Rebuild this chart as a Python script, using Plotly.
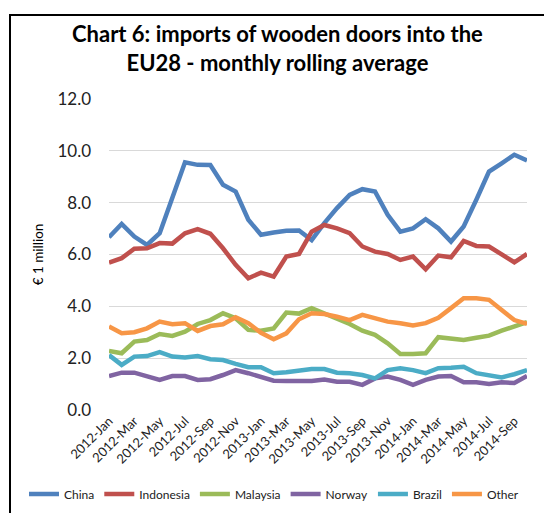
import plotly.graph_objects as go

# Monthly rolling average of wooden door imports into the EU28 (EUR million)
months = [f"{y}-{m}" for y in (2012, 2013, 2014)
          for m in ("Jan", "Feb", "Mar", "Apr", "May", "Jun",
                    "Jul", "Aug", "Sep", "Oct", "Nov", "Dec")][:34]

china = [6.67, 7.18, 6.69, 6.37, 6.82, 8.17, 9.56, 9.46, 9.45, 8.69, 8.43, 7.34,
         6.76, 6.85, 6.92, 6.93, 6.56, 7.21, 7.79, 8.30, 8.52, 8.43, 7.53, 6.88,
         7.01, 7.36, 7.01, 6.50, 7.08, 8.11, 9.20, 9.52, 9.85, 9.63]
indonesia = [5.69, 5.86, 6.22, 6.24, 6.44, 6.42, 6.82, 6.98, 6.80, 6.24, 5.60, 5.08,
             5.30, 5.15, 5.92, 6.02, 6.88, 7.14, 7.01, 6.82, 6.31, 6.11, 6.02, 5.79,
             5.92, 5.43, 5.96, 5.89, 6.52, 6.33, 6.31, 6.02, 5.70, 6.02]
malaysia = [2.28, 2.19, 2.64, 2.70, 2.93, 2.86, 3.02, 3.32, 3.47, 3.73, 3.54, 3.09,
            3.06, 3.15, 3.76, 3.72, 3.93, 3.73, 3.56, 3.32, 3.06, 2.90, 2.57, 2.16,
            2.16, 2.19, 2.81, 2.77, 2.70, 2.79, 2.87, 3.06, 3.24, 3.39]
norway = [1.31, 1.44, 1.44, 1.31, 1.16, 1.31, 1.31, 1.16, 1.19, 1.35, 1.54, 1.42,
          1.29, 1.13, 1.12, 1.10, 1.12, 1.18, 1.09, 1.09, 0.97, 1.22, 1.29, 1.16,
          0.97, 1.16, 1.29, 1.31, 1.07, 1.07, 1.00, 1.07, 1.04, 1.31]
brazil = [2.12, 1.74, 2.06, 2.08, 2.23, 2.06, 2.03, 2.08, 1.96, 1.93, 1.78, 1.65,
          1.65, 1.42, 1.46, 1.52, 1.58, 1.58, 1.44, 1.42, 1.35, 1.22, 1.54, 1.61,
          1.54, 1.42, 1.61, 1.63, 1.67, 1.42, 1.35, 1.26, 1.38, 1.54]
other = [3.22, 2.96, 3.00, 3.15, 3.41, 3.31, 3.35, 3.05, 3.24, 3.31, 3.58, 3.35,
         2.98, 2.73, 2.96, 3.50, 3.73, 3.70, 3.60, 3.47, 3.67, 3.54, 3.41, 3.35,
         3.26, 3.35, 3.56, 3.93, 4.31, 4.31, 4.25, 3.86, 3.47, 3.32]

series = [
    ("China", china, "#4F81BD"),
    ("Indonesia", indonesia, "#C0504D"),
    ("Malaysia", malaysia, "#9BBB59"),
    ("Norway", norway, "#8064A2"),
    ("Brazil", brazil, "#4BACC6"),
    ("Other", other, "#F79646"),
]

y_ticks = [0, 2, 4, 6, 8, 10, 12]
x_ticks = months[::2]

FONT = "Lato, Carlito, Calibri, sans-serif"

fig = go.Figure()
for name, vals, color in series:
    fig.add_trace(go.Scatter(
        x=months, y=vals, name=name, mode="lines",
        line=dict(color=color, width=4.5),
    ))

# plot area in pixels: x 109..527, y 99..410 on a 544x513 page
W, H = 544, 513
L, R, T, B = 109, 527, 99, 410


def px(x):
    return (x - L) / (R - L)


def py(y):
    return (B - y) / (B - T)


fig.update_layout(
    width=W, height=H,
    margin=dict(l=L, r=W - R, t=T, b=H - B, autoexpand=False),
    paper_bgcolor="white", plot_bgcolor="white",
    font=dict(family=FONT, color="#000000"),
    title=dict(
        text="Chart 6: imports of wooden doors into the<br>EU28 - monthly rolling average",
        font=dict(family=FONT, size=22, color="#000000", weight="bold"),
        x=0.51, xanchor="center", y=1 - 42 / H, yanchor="middle",
    ),
    xaxis=dict(
        type="category", tickmode="array", tickvals=x_ticks, ticktext=x_ticks,
        tickangle=-45, tickfont=dict(size=13, color="#222222"),
        showgrid=False, showline=False, ticks="", zeroline=False,
        automargin=False,
    ),
    yaxis=dict(
        range=[0, 12], tickvals=y_ticks, tickformat=".1f",
        tickfont=dict(size=17, color="#222222"),
        showgrid=True, gridcolor="#D9D9D9", gridwidth=1,
        zeroline=False, showline=False, ticks="",
        ticklabelstandoff=17, automargin=False,
        title=dict(text="€ 1 million", font=dict(size=13.5, color="#000000"), standoff=10),
    ),
    legend=dict(
        orientation="h", xref="paper", x=px(24), xanchor="left",
        yref="paper", y=py(494), yanchor="middle",
        font=dict(size=12, color="#222222"), itemwidth=30,
        tracegroupgap=0,
    ),
    shapes=[
        dict(type="line", xref="paper", yref="paper",
             x0=px(10), x1=px(10), y0=py(15), y1=py(520),
             line=dict(color="black", width=2)),
        dict(type="line", xref="paper", yref="paper",
             x0=px(9), x1=px(550), y0=py(15), y1=py(15),
             line=dict(color="black", width=2)),
    ],
)

fig.write_html("out.html")
